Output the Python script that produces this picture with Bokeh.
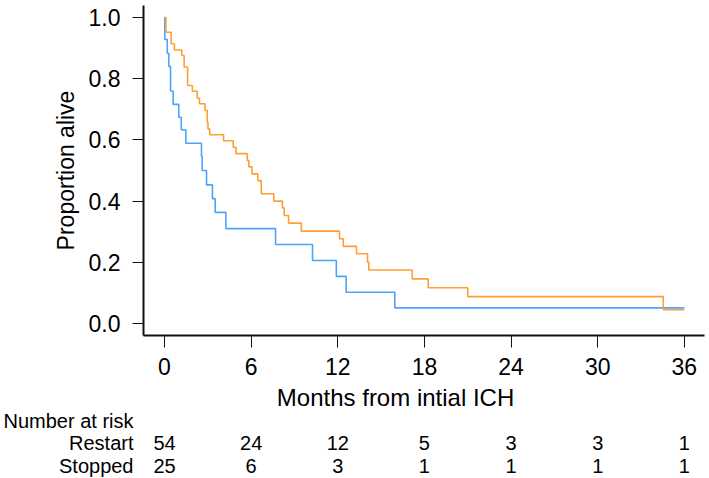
from bokeh.plotting import figure
from bokeh.models import FixedTicker, PrintfTickFormatter, ColumnDataSource, Range1d
from bokeh.layouts import column
from bokeh.core.properties import value
from bokeh.embed import file_html
from bokeh.resources import INLINE

# ---- data ----
restart_time = [0, 0.10, 0.46, 0.69, 1.20, 1.36, 1.60, 1.93, 2.27, 2.42,
                2.80, 2.96, 3.01, 3.13, 4.09, 4.76, 4.95, 5.73, 5.84, 6.06,
                6.46, 6.70, 7.57, 8.17, 8.29, 8.59, 9.47, 12.12, 12.38, 13.30,
                14.06, 14.15, 17.15, 18.26, 21.00, 34.54, 36.0]
restart_surv = [1.0, 0.952, 0.914, 0.894, 0.876, 0.838, 0.778, 0.759, 0.736, 0.718,
                0.696, 0.658, 0.636, 0.617, 0.597, 0.576, 0.555, 0.533, 0.512, 0.489,
                0.467, 0.424, 0.400, 0.378, 0.353, 0.328, 0.302, 0.277, 0.252, 0.228,
                0.200, 0.175, 0.146, 0.117, 0.088, 0.045, 0.045]

stopped_time = [0, 0.02, 0.19, 0.30, 0.42, 0.60, 0.99, 1.16, 1.48, 2.56,
                2.61, 2.91, 3.32, 3.51, 4.25, 7.69, 10.25, 11.90, 12.58, 15.95, 36.0]
stopped_surv = [1.0, 0.928, 0.883, 0.840, 0.760, 0.716, 0.674, 0.633, 0.589, 0.546,
                0.500, 0.453, 0.408, 0.363, 0.310, 0.258, 0.206, 0.154, 0.102, 0.051, 0.051]

x_ticks = [0, 6, 12, 18, 24, 30, 36]
y_ticks = [0.0, 0.2, 0.4, 0.6, 0.8, 1.0]
risk_times = [0, 6, 12, 18, 24, 30, 36]
restart_risk = [54, 24, 12, 5, 3, 3, 1]
stopped_risk = [25, 6, 3, 1, 1, 1, 1]
table_rows = ["Number at risk", "Restart", "Stopped"]

ORANGE = "#FF9F33"
BLUE = "#4DA3FF"
FONT = "Liberation Sans"
PX_PER_MONTH = 14.44
X0_PX = 164.0
MAIN_H = 384

xr = Range1d((143 - X0_PX) / PX_PER_MONTH, (704 - X0_PX) / PX_PER_MONTH)

# ---------------- main survival plot ----------------
p = figure(width=709, height=MAIN_H, x_range=xr,
           y_range=Range1d(-0.0392, 1.0392),
           output_backend="svg", toolbar_location=None,
           min_border_left=143, min_border_right=5,
           min_border_top=5, min_border_bottom=MAIN_H - 335)
p.outline_line_color = None
p.xgrid.visible = False
p.ygrid.visible = False

p.step(x=stopped_time, y=stopped_surv, mode="after", line_color=BLUE, line_width=1.6)
p.step(x=restart_time, y=restart_surv, mode="after", line_color=ORANGE, line_width=1.6)

for ax in (p.xaxis[0], p.yaxis[0]):
    ax.minor_tick_line_color = None
    ax.major_tick_in = 0
    ax.axis_line_width = 2
    ax.axis_line_color = "#111111"
    ax.major_tick_line_color = "#111111"
    ax.major_tick_line_width = 1
    ax.major_label_text_font = FONT
    ax.major_label_text_font_size = "23px"
    ax.major_label_text_color = "#000000"

p.xaxis.ticker = FixedTicker(ticks=x_ticks)
p.xaxis.major_tick_out = 12
p.xaxis.major_label_standoff = 10

p.yaxis.ticker = FixedTicker(ticks=y_ticks)
p.yaxis.formatter = PrintfTickFormatter(format="%.1f")
p.yaxis.major_tick_out = 11
p.yaxis.major_label_standoff = 12
p.yaxis.axis_label = "Proportion alive"
p.yaxis.axis_label_text_font = FONT
p.yaxis.axis_label_text_font_size = "23px"
p.yaxis.axis_label_text_font_style = "normal"
p.yaxis.axis_label_text_color = "#000000"
p.yaxis.axis_label_standoff = 7

# ---------------- x title + number-at-risk table ----------------
ROW_PX = 22.5
t = figure(width=709, height=478 - MAIN_H, x_range=xr,
           y_range=Range1d((478 - 420) / ROW_PX, (MAIN_H - 420) / ROW_PX),
           output_backend="svg", toolbar_location=None,
           x_axis_type=None,
           min_border_left=143, min_border_right=5,
           min_border_top=0, min_border_bottom=0)
t.outline_line_color = None
t.xgrid.visible = False
t.ygrid.visible = False

ya = t.yaxis[0]
ya.ticker = FixedTicker(ticks=list(range(len(table_rows))))
ya.major_label_overrides = {i: name for i, name in enumerate(table_rows)}
ya.axis_line_color = None
ya.major_tick_line_color = None
ya.minor_tick_line_color = None
ya.major_tick_out = 0
ya.major_label_standoff = 10
ya.major_label_text_font = FONT
ya.major_label_text_font_size = "20px"
ya.major_label_text_color = "#000000"

t.text(x=[16.0], y=[-1.02], text=["Months from intial ICH"],
       text_align="center", text_baseline="middle",
       text_font=value(FONT), text_font_size="24px", text_color="#000000")

for row, counts in ((1, restart_risk), (2, stopped_risk)):
    src = ColumnDataSource(dict(x=risk_times, y=[row] * len(risk_times),
                                text=[str(c) for c in counts]))
    t.text(x="x", y="y", text="text", source=src,
           text_align="center", text_baseline="middle",
           text_font=value(FONT), text_font_size="20px", text_color="#000000")

open("out.html", "w").write(file_html(column(p, t), INLINE))
